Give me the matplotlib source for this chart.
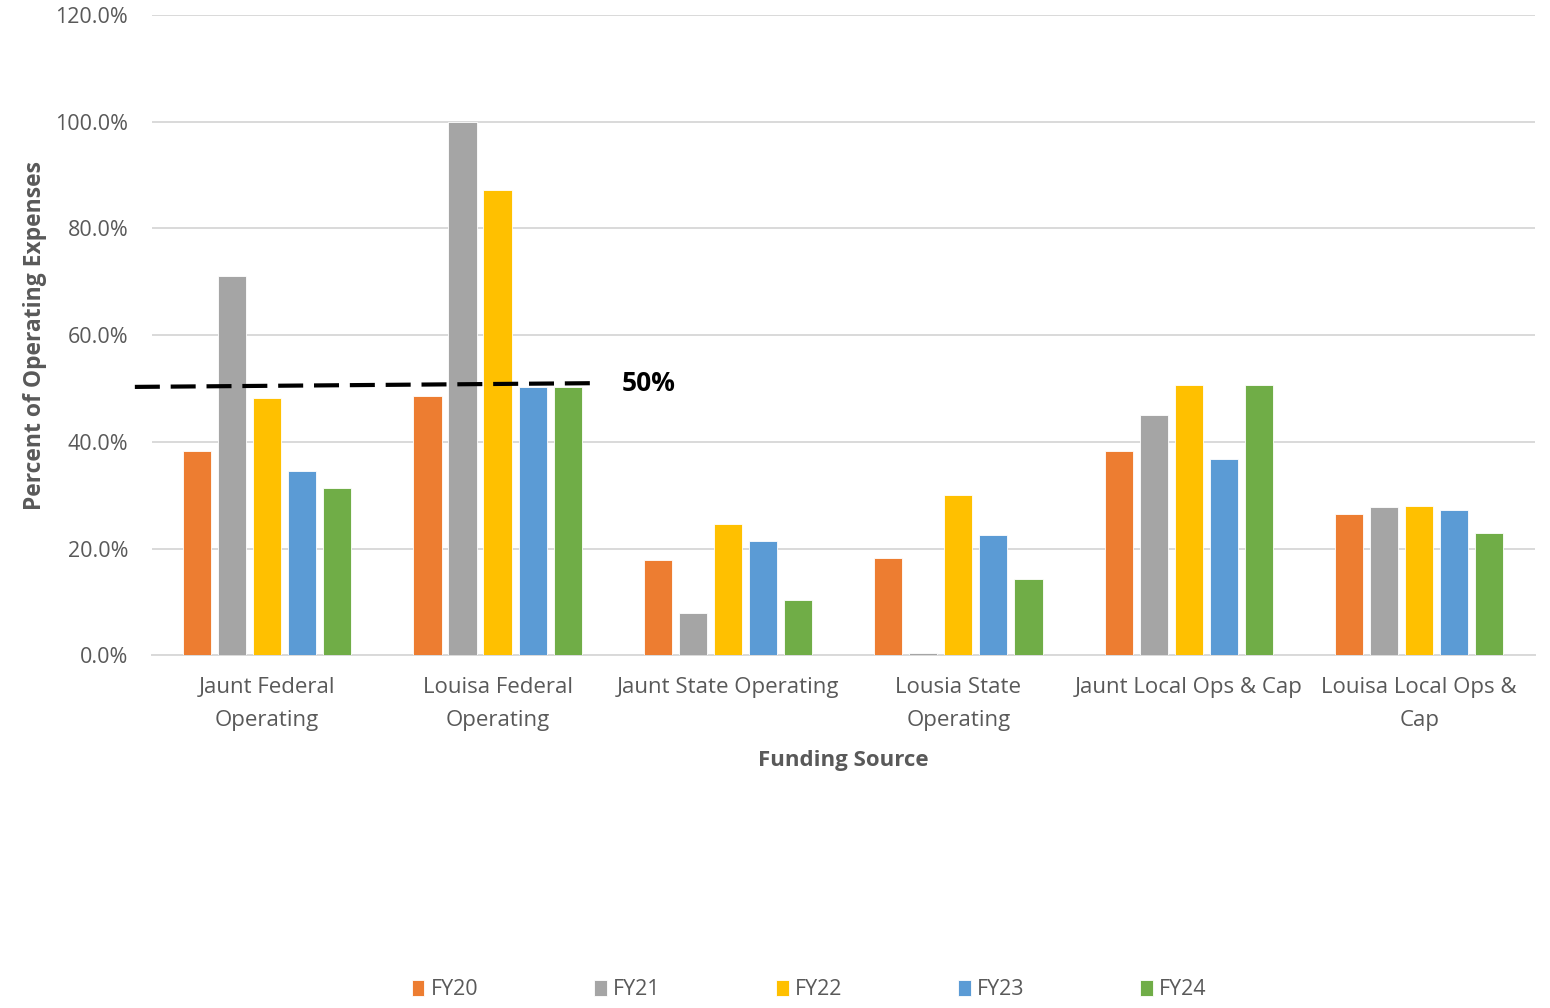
import numpy as np
import matplotlib.pyplot as plt

categories = ["Jaunt Federal\nOperating", "Louisa Federal\nOperating", "Jaunt State Operating",
              "Lousia State\nOperating", "Jaunt Local Ops & Cap", "Louisa Local Ops &\nCap"]
years = ["FY20", "FY21", "FY22", "FY23", "FY24"]

fy20 = [38.3, 48.6, 17.8, 18.2, 38.3, 26.4]
fy21 = [71.1, 100.0, 8.0, 0.5, 45.0, 27.7]
fy22 = [48.2, 87.2, 24.6, 30.0, 50.6, 27.9]
fy23 = [34.5, 50.2, 21.4, 22.5, 36.8, 27.3]
fy24 = [31.3, 50.2, 10.3, 14.3, 50.6, 23.0]
series = [fy20, fy21, fy22, fy23, fy24]

colors = ['#ED7D31', '#A5A5A5', '#FFC000', '#5B9BD5', '#70AD47']
txt = '#595959'

plt.rcParams['font.family'] = ['Open Sans', 'DejaVu Sans']

fig = plt.figure(figsize=(15.5, 10.08), dpi=100)
ax = fig.add_axes([0.098, 0.350, 0.892, 0.635])

index = np.arange(len(categories))
step = 0.152
width = 0.122
handles = []
for i, (vals, c) in enumerate(zip(series, colors)):
    b = ax.bar(index + (i - 2) * step, vals, width, color=c, edgecolor='white',
               linewidth=0.6, zorder=3, label=years[i])
    handles.append(b)

ax.set_xlim(-0.5, len(categories) - 0.5)
ax.set_ylim(0, 120)
ax.set_yticks(np.arange(0, 121, 20))
ax.set_yticklabels(['%.1f%%' % v for v in np.arange(0, 121, 20)], fontsize=15.5, color=txt)
ax.set_xticks(index)
ax.set_xticklabels(categories, fontsize=16, color=txt, linespacing=1.7)
ax.tick_params(axis='both', length=0)
ax.tick_params(axis='x', pad=16)
ax.tick_params(axis='y', pad=17)
ax.grid(axis='y', color='#D9D9D9', linewidth=1.4, zorder=0)
for s in ['top', 'right', 'left']:
    ax.spines[s].set_visible(False)
ax.spines['bottom'].set_color('#D9D9D9')
ax.spines['bottom'].set_linewidth(1.4)

ax.set_ylabel('Percent of Operating Expenses', fontsize=16.5, fontweight='bold', color=txt, labelpad=6)
ax.set_xlabel('Funding Source', fontsize=16, fontweight='bold', color=txt, labelpad=14)

# 50% reference line
ax.plot([-0.574, 1.422], [50.3, 51.0], color='black', linewidth=3, dashes=(6, 2.6),
        clip_on=False, zorder=4)
ax.text(1.54, 51.0, '50%', fontsize=19, fontweight='bold', va='center', ha='left', color='black')

fig.legend(handles=handles, labels=years, loc='center', bbox_to_anchor=(0.522, 0.018), ncol=5,
           frameon=False, fontsize=15.5, handlelength=0.6, handleheight=0.8, handletextpad=0.3,
           columnspacing=5.35, labelcolor=txt)

fig.savefig('out.png', dpi=100)
